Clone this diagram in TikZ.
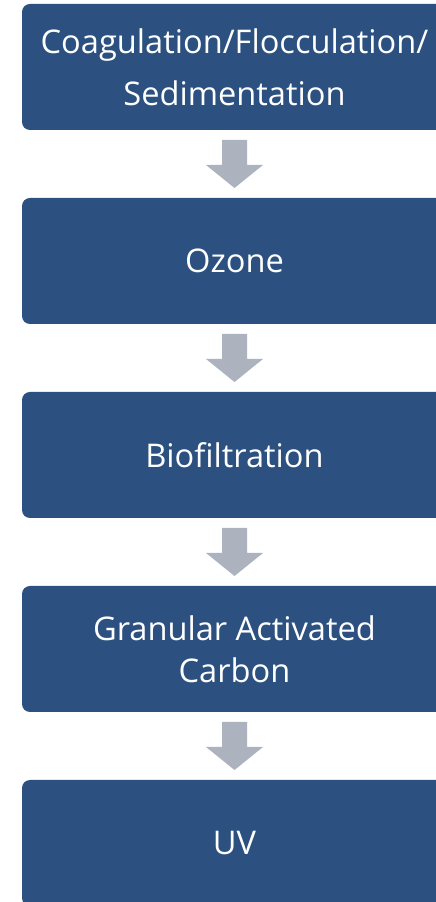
\documentclass[tikz,border=0pt]{standalone}
\usepackage{fontspec}
\setmainfont{Open Sans}
\usetikzlibrary{calc}
\definecolor{boxblue}{HTML}{2C5180}
\definecolor{arrowgray}{HTML}{ADB2BF}
\tikzset{
  stepbox/.style={rectangle, rounded corners=8pt, fill=boxblue, draw=none,
    minimum width=425pt, minimum height=126pt, inner sep=0pt,
    text=white, align=center, font=\fontsize{32.6}{42}\selectfont},
  flowarrow/.style={fill=arrowgray, draw=none}
}
\newcommand{\downarrowshape}[2]{%
  \fill[flowarrow] ($(#1.south)!0.5!(#2.north)$) ++(-12.5,24) -- ++(25,0) -- ++(0,-25)
    -- ++(16,0) -- ++(-28.5,-23) -- ++(-28.5,23) -- ++(16,0) -- cycle;}
\begin{document}
\begin{tikzpicture}[x=1pt,y=1pt]
\useasboundingbox (0,0) rectangle (436,902);
\clip (0,0) rectangle (436,902);
\node[stepbox, font=\fontsize{32.6}{52}\selectfont] (b1) at (234.5,835) {Coagulation/Flocculation/\\Sedimentation};
\node[stepbox] (b2) at (234.5,641) {Ozone};
\node[stepbox] (b3) at (234.5,447) {Biofiltration};
\node[stepbox] (b4) at (234.5,253) {Granular Activated\\Carbon};
\node[stepbox] (b5) at (234.5,59) {UV};
\downarrowshape{b1}{b2}
\downarrowshape{b2}{b3}
\downarrowshape{b3}{b4}
\downarrowshape{b4}{b5}
\end{tikzpicture}
\end{document}
